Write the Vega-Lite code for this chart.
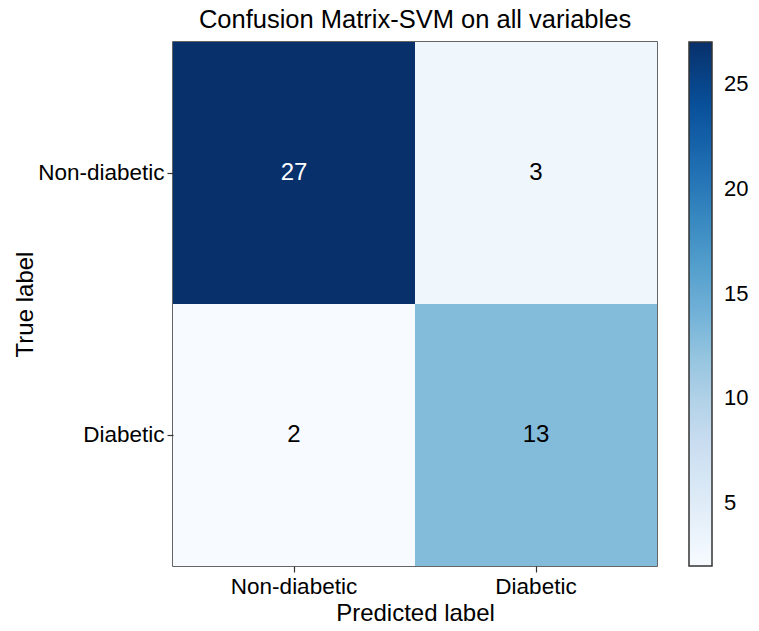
{
  "$schema": "https://vega.github.io/schema/vega-lite/v6.json",
  "width": 484,
  "height": 524,
  "autosize": {"type": "none"},
  "padding": {"left": 173, "top": 42, "right": 102, "bottom": 65},
  "background": "white",
  "title": {
    "text": "Confusion Matrix-SVM on all variables",
    "font": "Liberation Sans",
    "fontSize": 25.5,
    "fontWeight": "normal",
    "color": "black",
    "anchor": "middle",
    "offset": 9
  },
  "config": {
    "view": {"stroke": "#333333", "strokeWidth": 1.5},
    "font": "Liberation Sans"
  },
  "data": {
    "values": [
      {"true_label": "Non-diabetic", "predicted": "Non-diabetic", "count": 27},
      {"true_label": "Non-diabetic", "predicted": "Diabetic", "count": 3},
      {"true_label": "Diabetic", "predicted": "Non-diabetic", "count": 2},
      {"true_label": "Diabetic", "predicted": "Diabetic", "count": 13}
    ]
  },
  "encoding": {
    "x": {
      "field": "predicted",
      "type": "nominal",
      "sort": ["Non-diabetic", "Diabetic"],
      "title": "Predicted label",
      "axis": {
        "labelAngle": 0,
        "labelFontSize": 22.5,
        "labelColor": "black",
        "labelPadding": 3,
        "tickSize": 6,
        "tickColor": "#333333",
        "tickWidth": 1.2,
        "domain": false,
        "titleFontSize": 24,
        "titleFontWeight": "normal",
        "titleColor": "black",
        "titlePadding": 4
      }
    },
    "y": {
      "field": "true_label",
      "type": "nominal",
      "sort": ["Non-diabetic", "Diabetic"],
      "title": "True label",
      "axis": {
        "labelFontSize": 22.5,
        "labelColor": "black",
        "labelPadding": 3,
        "tickSize": 6,
        "tickColor": "#333333",
        "tickWidth": 1.2,
        "domain": false,
        "titleFontSize": 24,
        "titleFontWeight": "normal",
        "titleColor": "black",
        "titlePadding": 0
      }
    }
  },
  "layer": [
    {
      "mark": {"type": "rect"},
      "encoding": {
        "color": {
          "field": "count",
          "type": "quantitative",
          "scale": {
            "domain": [2, 27],
            "range": ["#f7fbff", "#deebf7", "#c6dbef", "#9ecae1", "#6baed6", "#4292c6", "#2171b5", "#08519c", "#08306b"],
            "interpolate": "rgb"
          },
          "legend": {
            "title": null,
            "orient": "none",
            "legendX": 516,
            "legendY": 0,
            "direction": "vertical",
            "gradientLength": 524,
            "gradientThickness": 23,
            "gradientStrokeColor": "#333333",
            "gradientStrokeWidth": 1.5,
            "values": [5, 10, 15, 20, 25],
            "labelFontSize": 22,
            "labelColor": "black",
            "labelOffset": 12,
            "labelOverlap": false
          }
        }
      }
    },
    {
      "mark": {"type": "text", "fontSize": 24, "font": "Liberation Sans"},
      "encoding": {
        "text": {"field": "count", "type": "quantitative"},
        "color": {
          "condition": {"test": "datum.count > 14.5", "value": "white"},
          "value": "black"
        }
      }
    }
  ]
}
